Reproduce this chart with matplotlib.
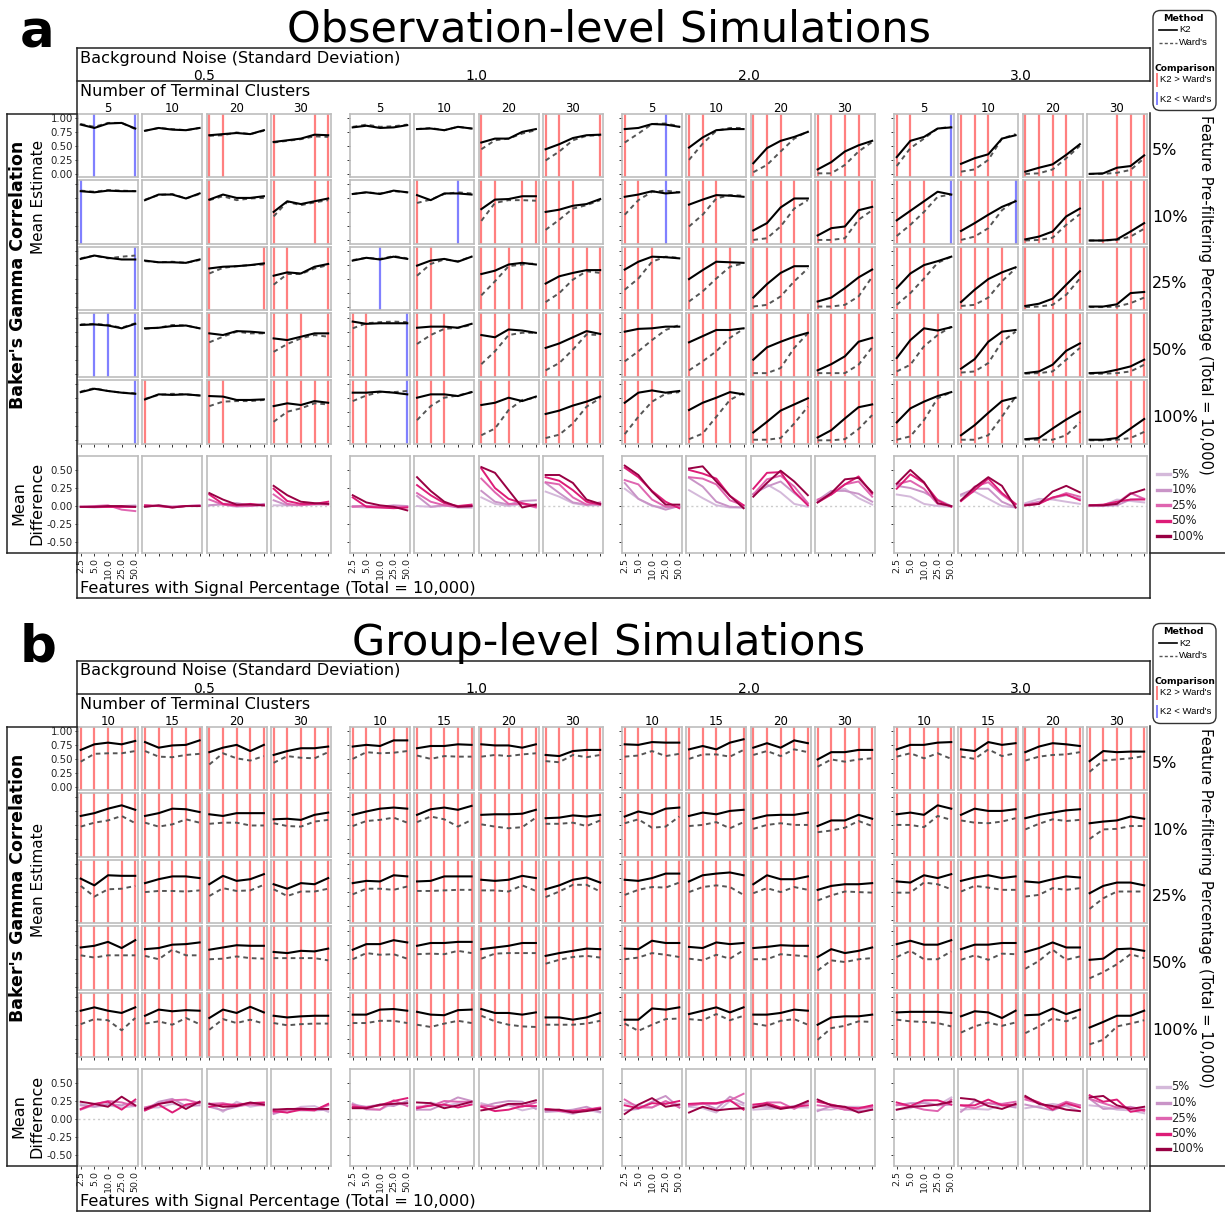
import matplotlib
matplotlib.use("Agg")
import matplotlib.pyplot as plt
from matplotlib.lines import Line2D
from matplotlib.patches import FancyBboxPatch
import numpy as np

# ---------------- data ----------------
signal_pct = ["2.5", "5.0", "10.0", "25.0", "50.0"]
noise_levels = ["0.5", "1.0", "2.0", "3.0"]
prefilter = ["5%", "10%", "25%", "50%", "100%"]
obs_clusters = ["5", "10", "20", "30"]
grp_clusters = ["10", "15", "20", "30"]

# each array: rows = pre-filtering %, 4 cluster cells per row, 5 signal % values per cell
# ---- Observation-level ----
obs_k2_n05 = [
    [[0.88, 0.82, 0.90, 0.91, 0.81], [0.77, 0.82, 0.79, 0.78, 0.82], [0.69, 0.71, 0.73, 0.71, 0.78], [0.57, 0.60, 0.63, 0.70, 0.69]],
    [[0.88, 0.86, 0.89, 0.88, 0.88], [0.72, 0.82, 0.82, 0.75, 0.84], [0.73, 0.82, 0.76, 0.76, 0.79], [0.51, 0.70, 0.65, 0.70, 0.75]],
    [[0.86, 0.92, 0.88, 0.85, 0.85], [0.83, 0.80, 0.80, 0.79, 0.85], [0.69, 0.72, 0.73, 0.75, 0.78], [0.56, 0.62, 0.60, 0.72, 0.77]],
    [[0.87, 0.88, 0.86, 0.81, 0.89], [0.81, 0.82, 0.85, 0.86, 0.81], [0.72, 0.69, 0.76, 0.75, 0.73], [0.63, 0.60, 0.66, 0.72, 0.72]],
    [[0.86, 0.92, 0.88, 0.85, 0.83], [0.73, 0.82, 0.81, 0.82, 0.80], [0.79, 0.78, 0.72, 0.72, 0.73], [0.61, 0.66, 0.63, 0.70, 0.67]],
]
obs_ward_n05 = [
    [[0.89, 0.84, 0.91, 0.91, 0.80], [0.77, 0.82, 0.80, 0.78, 0.82], [0.68, 0.69, 0.74, 0.71, 0.77], [0.56, 0.59, 0.62, 0.67, 0.66]],
    [[0.89, 0.87, 0.90, 0.89, 0.88], [0.73, 0.81, 0.83, 0.75, 0.83], [0.72, 0.79, 0.72, 0.75, 0.76], [0.43, 0.69, 0.63, 0.68, 0.72]],
    [[0.87, 0.92, 0.87, 0.90, 0.92], [0.82, 0.80, 0.81, 0.79, 0.84], [0.60, 0.70, 0.73, 0.75, 0.76], [0.40, 0.59, 0.59, 0.69, 0.75]],
    [[0.88, 0.89, 0.87, 0.82, 0.90], [0.80, 0.82, 0.87, 0.86, 0.81], [0.56, 0.66, 0.75, 0.72, 0.72], [0.39, 0.53, 0.63, 0.69, 0.66]],
    [[0.87, 0.93, 0.88, 0.85, 0.84], [0.74, 0.81, 0.83, 0.82, 0.80], [0.61, 0.69, 0.70, 0.70, 0.72], [0.33, 0.51, 0.57, 0.66, 0.64]],
]
obs_sig_n05 = [
    [".b..b", ".....", "rr...", "r..rr"],
    ["b....", ".....", "r....", "r..rr"],
    ["....b", ".....", "r...r", "rr..r"],
    [".bb.b", ".....", "r....", "rrr.r"],
    ["....b", "r....", "rr...", "rrrrr"],
]

obs_k2_n10 = [
    [[0.83, 0.86, 0.82, 0.83, 0.87], [0.80, 0.81, 0.78, 0.84, 0.81], [0.56, 0.63, 0.63, 0.75, 0.80], [0.44, 0.53, 0.64, 0.69, 0.70]],
    [[0.83, 0.86, 0.83, 0.89, 0.86], [0.81, 0.72, 0.84, 0.84, 0.82], [0.56, 0.73, 0.74, 0.79, 0.79], [0.51, 0.55, 0.62, 0.65, 0.74]],
    [[0.83, 0.88, 0.85, 0.90, 0.86], [0.74, 0.83, 0.86, 0.81, 0.90], [0.59, 0.65, 0.76, 0.79, 0.76], [0.42, 0.55, 0.61, 0.66, 0.66]],
    [[0.93, 0.89, 0.90, 0.90, 0.90], [0.82, 0.84, 0.84, 0.82, 0.89], [0.69, 0.65, 0.79, 0.77, 0.73], [0.46, 0.54, 0.65, 0.76, 0.71]],
    [[0.85, 0.85, 0.87, 0.85, 0.82], [0.76, 0.82, 0.82, 0.79, 0.86], [0.63, 0.67, 0.76, 0.70, 0.78], [0.47, 0.53, 0.62, 0.69, 0.78]],
]
obs_ward_n10 = [
    [[0.84, 0.88, 0.84, 0.85, 0.88], [0.80, 0.82, 0.78, 0.84, 0.81], [0.44, 0.60, 0.63, 0.72, 0.78], [0.24, 0.40, 0.60, 0.68, 0.69]],
    [[0.83, 0.86, 0.84, 0.88, 0.86], [0.67, 0.73, 0.83, 0.86, 0.84], [0.35, 0.67, 0.72, 0.72, 0.71], [0.19, 0.37, 0.57, 0.63, 0.72]],
    [[0.84, 0.88, 0.86, 0.91, 0.87], [0.56, 0.77, 0.85, 0.82, 0.90], [0.21, 0.46, 0.73, 0.76, 0.78], [0.09, 0.25, 0.49, 0.64, 0.61]],
    [[0.81, 0.90, 0.92, 0.93, 0.92], [0.53, 0.69, 0.80, 0.82, 0.87], [0.17, 0.40, 0.69, 0.73, 0.73], [0.06, 0.19, 0.43, 0.70, 0.69]],
    [[0.70, 0.80, 0.86, 0.86, 0.88], [0.36, 0.61, 0.76, 0.80, 0.86], [0.09, 0.21, 0.54, 0.72, 0.76], [0.04, 0.10, 0.30, 0.60, 0.75]],
]
obs_sig_n10 = [
    [".....", ".....", "r....", "rr..r"],
    [".....", "r..b.", "rr.rr", "rrr.."],
    ["..b..", "rr...", "rrrr.", "rrrrr"],
    ["rr..b", "rrr..", "rrr..", "rrrrr"],
    ["rr..b", "rrr..", "rrr..", "rrrrr"],
]

obs_k2_n20 = [
    [[0.80, 0.82, 0.89, 0.88, 0.84], [0.47, 0.65, 0.78, 0.80, 0.80], [0.19, 0.46, 0.59, 0.66, 0.75], [0.08, 0.21, 0.40, 0.51, 0.59]],
    [[0.78, 0.82, 0.88, 0.84, 0.86], [0.64, 0.73, 0.81, 0.80, 0.78], [0.18, 0.31, 0.59, 0.75, 0.75], [0.09, 0.22, 0.25, 0.54, 0.60]],
    [[0.67, 0.81, 0.90, 0.89, 0.87], [0.50, 0.66, 0.81, 0.80, 0.79], [0.17, 0.41, 0.61, 0.73, 0.73], [0.10, 0.17, 0.34, 0.53, 0.67]],
    [[0.75, 0.80, 0.81, 0.84, 0.84], [0.56, 0.67, 0.78, 0.78, 0.81], [0.25, 0.47, 0.57, 0.66, 0.73], [0.06, 0.17, 0.31, 0.57, 0.64]],
    [[0.67, 0.85, 0.89, 0.85, 0.88], [0.54, 0.67, 0.76, 0.86, 0.82], [0.14, 0.33, 0.53, 0.64, 0.75], [0.05, 0.18, 0.39, 0.59, 0.64]],
]
obs_ward_n20 = [
    [[0.56, 0.72, 0.89, 0.90, 0.85], [0.25, 0.54, 0.77, 0.82, 0.82], [0.03, 0.16, 0.40, 0.63, 0.76], [0.01, 0.01, 0.16, 0.40, 0.57]],
    [[0.46, 0.72, 0.87, 0.89, 0.86], [0.25, 0.46, 0.75, 0.81, 0.80], [0.01, 0.04, 0.25, 0.57, 0.72], [0.01, 0.01, 0.04, 0.37, 0.54]],
    [[0.31, 0.51, 0.81, 0.90, 0.88], [0.10, 0.28, 0.51, 0.72, 0.78], [0.01, 0.04, 0.19, 0.46, 0.69], [0.01, 0.01, 0.04, 0.19, 0.54]],
    [[0.22, 0.40, 0.60, 0.78, 0.87], [0.06, 0.22, 0.40, 0.64, 0.80], [0.01, 0.01, 0.10, 0.46, 0.72], [0.01, 0.01, 0.01, 0.16, 0.47]],
    [[0.11, 0.42, 0.69, 0.83, 0.86], [0.02, 0.12, 0.42, 0.72, 0.85], [0.01, 0.01, 0.04, 0.30, 0.60], [0.00, 0.00, 0.02, 0.20, 0.45]],
]
obs_sig_n20 = [
    ["r..b.", "rr...", "rrr..", "rrrr."],
    ["rr.b.", "rrr..", "rrrr.", "rrrrr"],
    ["rrr..", "rrrr.", "rrrr.", "rrrrr"],
    ["rrr..", "rrrr.", "rrrrr", "rrrrr"],
    ["rrr..", "rrrr.", "rrrrr", "rrrrr"],
]

obs_k2_n30 = [
    [[0.30, 0.59, 0.66, 0.81, 0.83], [0.18, 0.28, 0.35, 0.63, 0.69], [0.04, 0.11, 0.17, 0.34, 0.53], [0.00, 0.01, 0.11, 0.14, 0.33]],
    [[0.36, 0.53, 0.70, 0.87, 0.82], [0.17, 0.31, 0.46, 0.60, 0.70], [0.02, 0.07, 0.16, 0.43, 0.57], [0.00, 0.00, 0.02, 0.16, 0.31]],
    [[0.34, 0.60, 0.75, 0.82, 0.90], [0.09, 0.31, 0.50, 0.62, 0.71], [0.02, 0.06, 0.15, 0.40, 0.64], [0.01, 0.01, 0.05, 0.25, 0.27]],
    [[0.28, 0.60, 0.81, 0.77, 0.83], [0.09, 0.26, 0.57, 0.75, 0.78], [0.01, 0.04, 0.16, 0.41, 0.54], [0.01, 0.02, 0.07, 0.13, 0.25]],
    [[0.32, 0.57, 0.69, 0.79, 0.86], [0.09, 0.27, 0.49, 0.70, 0.76], [0.02, 0.04, 0.21, 0.37, 0.51], [0.01, 0.01, 0.04, 0.21, 0.38]],
]
obs_ward_n30 = [
    [[0.14, 0.46, 0.63, 0.81, 0.84], [0.04, 0.08, 0.25, 0.63, 0.71], [0.00, 0.01, 0.08, 0.28, 0.50], [0.00, 0.00, 0.02, 0.07, 0.28]],
    [[0.08, 0.28, 0.51, 0.78, 0.82], [0.01, 0.07, 0.22, 0.54, 0.72], [0.00, 0.01, 0.05, 0.28, 0.47], [0.00, 0.00, 0.01, 0.07, 0.21]],
    [[0.04, 0.25, 0.51, 0.79, 0.90], [0.02, 0.04, 0.17, 0.46, 0.69], [0.00, 0.01, 0.04, 0.22, 0.51], [0.00, 0.00, 0.01, 0.07, 0.17]],
    [[0.04, 0.16, 0.49, 0.69, 0.84], [0.02, 0.04, 0.19, 0.57, 0.75], [0.00, 0.01, 0.04, 0.25, 0.46], [0.00, 0.00, 0.01, 0.04, 0.16]],
    [[0.01, 0.07, 0.36, 0.75, 0.86], [0.01, 0.01, 0.09, 0.42, 0.78], [0.01, 0.01, 0.01, 0.09, 0.32], [0.00, 0.00, 0.01, 0.04, 0.15]],
]
obs_sig_n30 = [
    ["rr..b", "rrr..", "rrrr.", "..rrr"],
    ["rrr.b", "rrr.b", "rrrrr", ".rrrr"],
    ["rrr..", "rrrr.", "r.rrr", "..rrr"],
    ["rrrr.", "rrrr.", ".rrrr", "..rrr"],
    ["rrrr.", "rrrr.", ".rrrr", "..rrr"],
]

# ---- Group-level ----
grp_k2_n05 = [
    [[0.66, 0.76, 0.79, 0.76, 0.82], [0.80, 0.70, 0.74, 0.75, 0.83], [0.62, 0.70, 0.75, 0.64, 0.75], [0.57, 0.64, 0.69, 0.69, 0.72]],
    [[0.67, 0.72, 0.80, 0.86, 0.78], [0.67, 0.72, 0.80, 0.79, 0.74], [0.70, 0.67, 0.72, 0.72, 0.72], [0.61, 0.62, 0.60, 0.69, 0.73]],
    [[0.74, 0.62, 0.80, 0.79, 0.79], [0.66, 0.73, 0.78, 0.78, 0.75], [0.64, 0.79, 0.70, 0.73, 0.82], [0.64, 0.56, 0.66, 0.64, 0.75]],
    [[0.70, 0.73, 0.80, 0.69, 0.83], [0.67, 0.69, 0.75, 0.76, 0.79], [0.66, 0.70, 0.74, 0.73, 0.73], [0.62, 0.60, 0.64, 0.63, 0.68]],
    [[0.76, 0.82, 0.76, 0.72, 0.82], [0.67, 0.78, 0.75, 0.77, 0.76], [0.63, 0.78, 0.72, 0.83, 0.73], [0.67, 0.64, 0.66, 0.67, 0.67]],
]
grp_ward_n05 = [
    [[0.45, 0.59, 0.60, 0.60, 0.64], [0.64, 0.54, 0.53, 0.57, 0.59], [0.40, 0.60, 0.51, 0.47, 0.55], [0.43, 0.55, 0.52, 0.51, 0.62]],
    [[0.48, 0.55, 0.59, 0.67, 0.54], [0.55, 0.48, 0.52, 0.61, 0.55], [0.53, 0.55, 0.55, 0.50, 0.50], [0.54, 0.49, 0.48, 0.57, 0.60]],
    [[0.61, 0.42, 0.55, 0.56, 0.61], [0.50, 0.52, 0.52, 0.51, 0.53], [0.43, 0.57, 0.52, 0.53, 0.63], [0.55, 0.43, 0.51, 0.51, 0.56]],
    [[0.56, 0.52, 0.56, 0.56, 0.56], [0.55, 0.49, 0.66, 0.56, 0.56], [0.49, 0.50, 0.54, 0.51, 0.50], [0.51, 0.51, 0.51, 0.51, 0.47]],
    [[0.52, 0.61, 0.59, 0.41, 0.63], [0.53, 0.57, 0.51, 0.63, 0.52], [0.42, 0.61, 0.54, 0.60, 0.53], [0.54, 0.50, 0.52, 0.53, 0.53]],
]

grp_k2_n10 = [
    [[0.72, 0.75, 0.73, 0.83, 0.83], [0.69, 0.73, 0.73, 0.76, 0.75], [0.76, 0.74, 0.74, 0.70, 0.76], [0.57, 0.55, 0.64, 0.66, 0.66]],
    [[0.69, 0.75, 0.80, 0.82, 0.80], [0.69, 0.79, 0.82, 0.78, 0.85], [0.69, 0.70, 0.70, 0.71, 0.78], [0.63, 0.64, 0.68, 0.66, 0.69]],
    [[0.66, 0.70, 0.69, 0.80, 0.78], [0.69, 0.70, 0.78, 0.78, 0.78], [0.72, 0.70, 0.72, 0.79, 0.75], [0.55, 0.62, 0.72, 0.76, 0.67]],
    [[0.66, 0.76, 0.76, 0.83, 0.79], [0.73, 0.78, 0.78, 0.80, 0.80], [0.67, 0.70, 0.73, 0.78, 0.78], [0.55, 0.60, 0.64, 0.68, 0.67]],
    [[0.69, 0.69, 0.78, 0.79, 0.76], [0.74, 0.69, 0.68, 0.77, 0.78], [0.79, 0.72, 0.72, 0.69, 0.73], [0.64, 0.64, 0.60, 0.64, 0.72]],
]
grp_ward_n10 = [
    [[0.50, 0.62, 0.60, 0.61, 0.64], [0.56, 0.50, 0.55, 0.54, 0.54], [0.54, 0.57, 0.55, 0.58, 0.60], [0.46, 0.44, 0.57, 0.53, 0.57]],
    [[0.49, 0.58, 0.60, 0.64, 0.55], [0.56, 0.66, 0.61, 0.48, 0.60], [0.52, 0.48, 0.45, 0.47, 0.64], [0.53, 0.53, 0.55, 0.49, 0.59]],
    [[0.46, 0.56, 0.56, 0.54, 0.60], [0.52, 0.52, 0.53, 0.54, 0.54], [0.53, 0.53, 0.51, 0.62, 0.52], [0.41, 0.51, 0.63, 0.63, 0.51]],
    [[0.49, 0.60, 0.57, 0.58, 0.50], [0.58, 0.59, 0.58, 0.64, 0.60], [0.50, 0.59, 0.60, 0.60, 0.60], [0.41, 0.48, 0.53, 0.55, 0.52]],
    [[0.54, 0.54, 0.58, 0.58, 0.54], [0.51, 0.47, 0.53, 0.58, 0.54], [0.67, 0.57, 0.51, 0.48, 0.47], [0.51, 0.51, 0.51, 0.53, 0.58]],
]

grp_k2_n20 = [
    [[0.76, 0.75, 0.80, 0.79, 0.79], [0.67, 0.73, 0.67, 0.79, 0.85], [0.70, 0.78, 0.70, 0.83, 0.78], [0.49, 0.62, 0.62, 0.66, 0.66]],
    [[0.66, 0.75, 0.70, 0.80, 0.82], [0.67, 0.73, 0.70, 0.76, 0.78], [0.62, 0.68, 0.69, 0.69, 0.73], [0.49, 0.59, 0.59, 0.69, 0.62]],
    [[0.72, 0.70, 0.75, 0.83, 0.83], [0.69, 0.80, 0.83, 0.85, 0.80], [0.64, 0.80, 0.73, 0.73, 0.78], [0.54, 0.61, 0.64, 0.64, 0.66]],
    [[0.68, 0.67, 0.82, 0.78, 0.78], [0.71, 0.69, 0.79, 0.76, 0.78], [0.69, 0.71, 0.74, 0.73, 0.73], [0.53, 0.67, 0.60, 0.64, 0.70]],
    [[0.60, 0.60, 0.80, 0.78, 0.82], [0.70, 0.76, 0.82, 0.73, 0.82], [0.69, 0.69, 0.72, 0.78, 0.76], [0.51, 0.64, 0.66, 0.66, 0.69]],
]
grp_ward_n20 = [
    [[0.54, 0.56, 0.64, 0.55, 0.59], [0.50, 0.58, 0.58, 0.54, 0.66], [0.57, 0.64, 0.55, 0.67, 0.62], [0.36, 0.49, 0.45, 0.49, 0.51]],
    [[0.54, 0.61, 0.46, 0.48, 0.66], [0.49, 0.51, 0.56, 0.45, 0.56], [0.44, 0.51, 0.54, 0.51, 0.51], [0.38, 0.41, 0.46, 0.58, 0.49]],
    [[0.45, 0.54, 0.59, 0.58, 0.67], [0.50, 0.59, 0.62, 0.59, 0.45], [0.48, 0.57, 0.50, 0.59, 0.54], [0.35, 0.44, 0.51, 0.50, 0.49]],
    [[0.49, 0.52, 0.60, 0.57, 0.53], [0.50, 0.47, 0.57, 0.50, 0.65], [0.49, 0.49, 0.58, 0.56, 0.54], [0.29, 0.47, 0.44, 0.49, 0.51]],
    [[0.53, 0.40, 0.51, 0.61, 0.62], [0.61, 0.59, 0.70, 0.59, 0.67], [0.53, 0.49, 0.58, 0.61, 0.51], [0.24, 0.45, 0.49, 0.57, 0.56]],
]

grp_k2_n30 = [
    [[0.67, 0.75, 0.75, 0.79, 0.80], [0.67, 0.64, 0.80, 0.75, 0.78], [0.62, 0.72, 0.78, 0.76, 0.73], [0.46, 0.64, 0.62, 0.63, 0.63]],
    [[0.70, 0.73, 0.69, 0.86, 0.80], [0.69, 0.80, 0.76, 0.76, 0.79], [0.63, 0.69, 0.73, 0.77, 0.79], [0.54, 0.57, 0.59, 0.66, 0.62]],
    [[0.69, 0.67, 0.80, 0.75, 0.82], [0.70, 0.76, 0.80, 0.75, 0.78], [0.69, 0.67, 0.73, 0.78, 0.76], [0.48, 0.61, 0.67, 0.67, 0.62]],
    [[0.76, 0.82, 0.75, 0.75, 0.83], [0.67, 0.75, 0.75, 0.78, 0.78], [0.62, 0.69, 0.79, 0.70, 0.70], [0.48, 0.50, 0.67, 0.68, 0.64]],
    [[0.73, 0.74, 0.74, 0.74, 0.72], [0.66, 0.75, 0.73, 0.63, 0.76], [0.68, 0.69, 0.80, 0.70, 0.78], [0.46, 0.56, 0.67, 0.67, 0.76]],
]
grp_ward_n30 = [
    [[0.54, 0.60, 0.51, 0.60, 0.50], [0.54, 0.50, 0.67, 0.55, 0.60], [0.47, 0.54, 0.57, 0.58, 0.62], [0.27, 0.47, 0.49, 0.51, 0.55]],
    [[0.51, 0.51, 0.47, 0.67, 0.60], [0.59, 0.55, 0.54, 0.57, 0.63], [0.43, 0.53, 0.61, 0.58, 0.60], [0.26, 0.43, 0.44, 0.49, 0.49]],
    [[0.49, 0.49, 0.67, 0.64, 0.55], [0.51, 0.61, 0.58, 0.54, 0.54], [0.42, 0.45, 0.57, 0.54, 0.57], [0.20, 0.39, 0.51, 0.51, 0.51]],
    [[0.53, 0.64, 0.49, 0.49, 0.63], [0.48, 0.56, 0.48, 0.59, 0.58], [0.32, 0.46, 0.66, 0.48, 0.54], [0.15, 0.26, 0.40, 0.58, 0.51]],
    [[0.60, 0.57, 0.56, 0.54, 0.48], [0.37, 0.48, 0.55, 0.49, 0.55], [0.36, 0.48, 0.62, 0.57, 0.67], [0.16, 0.24, 0.48, 0.53, 0.59]],
]
# every group-level comparison is K2 > Ward's
grp_sig = [["rrrrr"] * 4 for _ in range(5)]

# ---------------- styling ----------------
W, H = 1225, 1212
sig_colors = {"r": "#ff8080", "b": "#8080ff"}
diff_colors = ["#d4b9da", "#c994c7", "#df65b0", "#dd1c77", "#980043"]
spine_col = "#bdbdbd"
box_col = "#222222"

group_x = [78, 350, 622, 894]
cell_w, cell_step = 60, 64.3
row_top0, row_step, row_h = 113.5, 66.6, 63.7
diff_top, diff_h = 455.5, 97.5

fig = plt.figure(figsize=(W / 100, H / 100), dpi=100)


def fx(x):
    return x / W


def fy(y):
    return 1 - y / H


def add_ax(x, y, w, h):
    return fig.add_axes([fx(x), fy(y + h), w / W, h / H])


def hline(x0, x1, y, **kw):
    fig.add_artist(Line2D([fx(x0), fx(x1)], [fy(y), fy(y)], transform=fig.transFigure,
                          color=kw.get("color", box_col), lw=kw.get("lw", 1.1)))


def vline(x, y0, y1, **kw):
    fig.add_artist(Line2D([fx(x), fx(x)], [fy(y0), fy(y1)], transform=fig.transFigure,
                          color=kw.get("color", box_col), lw=kw.get("lw", 1.1)))


def style_cell(ax):
    for sp in ax.spines.values():
        sp.set_color(spine_col)
        sp.set_linewidth(1.2)
    ax.tick_params(length=2.5, width=0.7, color="#333333", labelsize=7.3, pad=1.2,
                   labelcolor="#222222")
    ax.set_xticks([])
    ax.set_yticks([])


xpos = np.arange(len(signal_pct))


def draw_panel(dy, letter, title, clusters, k2_sets, ward_sets, sig_sets, est_y):
    fig.text(fx(20), fy(48 + dy), letter, fontsize=37, fontweight="bold", va="baseline")
    fig.text(fx(609), fy(41.5 + dy), title, fontsize=31, ha="center", va="baseline")

    # frame lines
    hline(77, 1149.5, 47.7 + dy)
    hline(77, 1149.5, 81 + dy)
    vline(1149.5, 47.7 + dy, 81 + dy)
    vline(77, 47.7 + dy, 598 + dy)
    hline(77, 1150, 598 + dy)
    vline(1150, 113 + dy, 598 + dy)
    hline(1150, 1225, 553 + dy)
    vline(7, 114 + dy, 553 + dy)
    hline(7, 77, 114 + dy)
    hline(7, 77, 553 + dy)

    fig.text(fx(80), fy(62.5 + dy), "Background Noise (Standard Deviation)", fontsize=11.6, va="baseline")
    fig.text(fx(80), fy(96 + dy), "Number of Terminal Clusters", fontsize=11.6, va="baseline")
    fig.text(fx(80), fy(593 + dy), "Features with Signal Percentage (Total = 10,000)", fontsize=11.6,
             va="baseline")
    fig.text(fx(18), fy(275 + dy), "Baker's Gamma Correlation", fontsize=12.5, fontweight="bold",
             rotation=90, ha="center", va="center")
    fig.text(fx(38.5), fy(est_y + dy), "Mean Estimate", fontsize=11, rotation=90, ha="center", va="center")
    fig.text(fx(28), fy(503 + dy), "Mean\nDifference", fontsize=11.5, rotation=90, ha="center",
             va="center", multialignment="center")
    fig.text(fx(1206), fy(115 + dy), "Feature Pre-filtering Percentage (Total = 10,000)", fontsize=10.6,
             rotation=270, ha="center", va="top")

    for r, lab in enumerate(prefilter):
        fig.text(fx(1152), fy(row_top0 + r * row_step + 41.7 + dy), lab, fontsize=11.5, va="baseline")

    for g in range(4):
        gx = group_x[g]
        fig.text(fx(gx + (3 * cell_step + cell_w) / 2), fy(80 + dy), noise_levels[g], fontsize=10,
                 ha="center", va="baseline")
        k2, ward, sig = k2_sets[g], ward_sets[g], sig_sets[g]
        for c in range(4):
            x0 = gx + c * cell_step
            fig.text(fx(x0 + cell_w / 2), fy(112.3 + dy), clusters[c], fontsize=8.5, ha="center",
                     va="baseline")
            for r in range(5):
                ax = add_ax(x0, row_top0 + r * row_step + dy, cell_w, row_h)
                style_cell(ax)
                for i, s in enumerate(sig[r][c]):
                    if s in sig_colors:
                        ax.axvline(xpos[i], color=sig_colors[s], lw=1.6, zorder=1)
                ax.plot(xpos, ward[r][c], color="#555555", lw=1.4, ls=(0, (2.4, 2.0)), zorder=2)
                ax.plot(xpos, k2[r][c], color="black", lw=1.5, zorder=3)
                ax.set_xlim(-0.2, 4.2)
                ax.set_ylim(-0.059, 1.078)
                if c == 0:
                    ax.set_yticks([0, 0.25, 0.5, 0.75, 1.0])
                    if g == 0 and r == 0:
                        ax.set_yticklabels(["0.00", "0.25", "0.50", "0.75", "1.00"])
                    else:
                        ax.set_yticklabels([])
                if r == 4:
                    ax.set_xticks(xpos)
                    ax.set_xticklabels([])

            # mean difference row
            ax = add_ax(x0, diff_top + dy, cell_w, diff_h)
            style_cell(ax)
            ax.axhline(0, color="#cccccc", lw=1.0, ls=(0, (1.5, 2)), zorder=1)
            for r in range(5):
                d = np.array(k2[r][c]) - np.array(ward[r][c])
                ax.plot(xpos, d, color=diff_colors[r], lw=1.4, zorder=2 + r)
            ax.set_xlim(-0.2, 4.2)
            ax.set_ylim(-0.65, 0.70)
            ax.set_xticks(xpos)
            if c == 0:
                ax.set_xticklabels(signal_pct, rotation=90, fontsize=6.8)
                ax.set_yticks([-0.5, -0.25, 0, 0.25, 0.5])
                if g == 0:
                    ax.set_yticklabels(["-0.50", "-0.25", "0.00", "0.25", "0.50"])
                else:
                    ax.set_yticklabels([])
            else:
                ax.set_xticklabels([])

    # pre-filter colour legend
    for r, lab in enumerate(prefilter):
        yy = 474 + r * 15.5 + dy
        hline(1157, 1170, yy, color=diff_colors[r], lw=2.4)
        fig.text(fx(1171.5), fy(yy), lab, fontsize=8.3, va="center", color="#222222")

    # method / comparison legend
    box = FancyBboxPatch((fx(1153), fy(110.5 + dy)), 63 / W, 100 / H, transform=fig.transFigure,
                         boxstyle="round,pad=0,rounding_size=0.006", fc="white", ec="#333333", lw=1.0)
    fig.add_artist(box)
    lf = "Liberation Sans"
    fig.text(fx(1183), fy(18.5 + dy), "Method", fontsize=6.8, fontweight="bold", ha="center", va="center")
    fig.add_artist(Line2D([fx(1159), fx(1177)], [fy(30 + dy)] * 2, transform=fig.transFigure,
                          color="black", lw=1.2))
    fig.text(fx(1179), fy(30 + dy), "K2", fontsize=6.8, family=lf, va="center")
    fig.add_artist(Line2D([fx(1159), fx(1177)], [fy(42.7 + dy)] * 2, transform=fig.transFigure,
                          color="#555555", lw=1.0, ls=(0, (2.2, 1.6))))
    fig.text(fx(1179), fy(42.7 + dy), "Ward's", fontsize=6.8, family=lf, va="center")
    fig.text(fx(1184.5), fy(68.3 + dy), "Comparison", fontsize=6.6, fontweight="bold", ha="center",
             va="center")
    vline(1157, 74 + dy, 86 + dy, color=sig_colors["r"], lw=1.4)
    fig.text(fx(1159.5), fy(80 + dy), "K2 > Ward's", fontsize=6.8, family=lf, va="center")
    vline(1157, 92.7 + dy, 104.3 + dy, color=sig_colors["b"], lw=1.4)
    fig.text(fx(1159.5), fy(99 + dy), "K2 < Ward's", fontsize=6.8, family=lf, va="center")


draw_panel(0, "a", "Observation-level Simulations", obs_clusters,
           [obs_k2_n05, obs_k2_n10, obs_k2_n20, obs_k2_n30],
           [obs_ward_n05, obs_ward_n10, obs_ward_n20, obs_ward_n30],
           [obs_sig_n05, obs_sig_n10, obs_sig_n20, obs_sig_n30], est_y=197)
draw_panel(613, "b", "Group-level Simulations", grp_clusters,
           [grp_k2_n05, grp_k2_n10, grp_k2_n20, grp_k2_n30],
           [grp_ward_n05, grp_ward_n10, grp_ward_n20, grp_ward_n30],
           [grp_sig, grp_sig, grp_sig, grp_sig], est_y=267)

fig.savefig("out.png", dpi=100)
